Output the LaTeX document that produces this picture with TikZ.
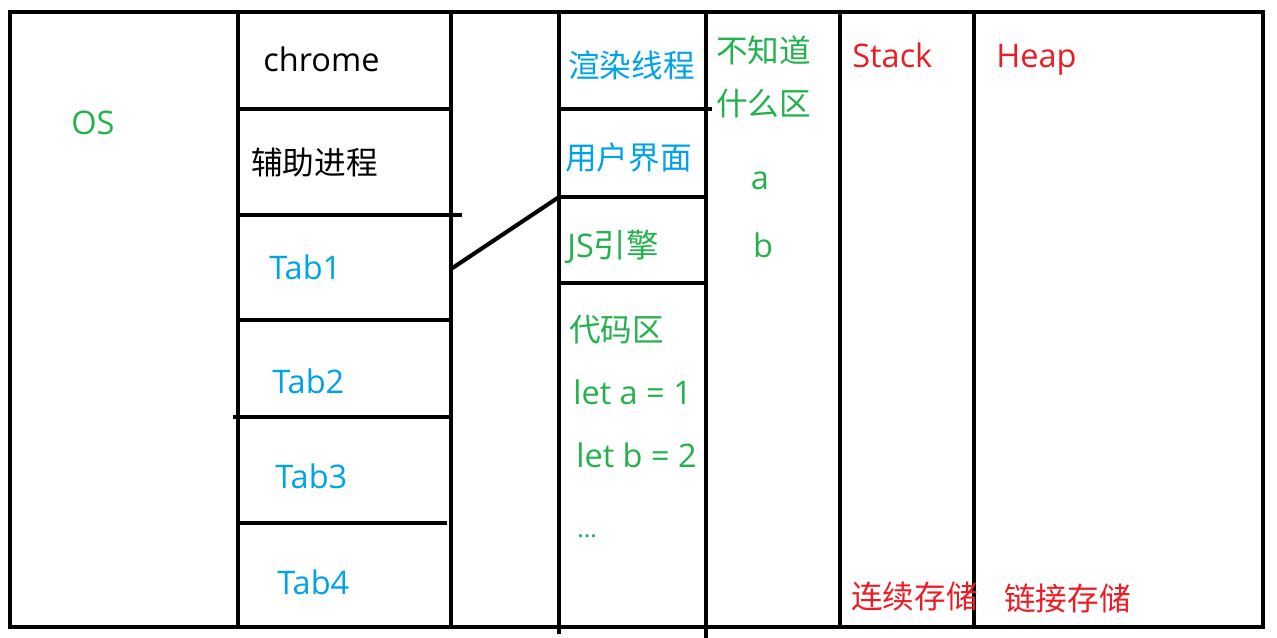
\documentclass[tikz,border=0pt]{standalone}
\usepackage{fontspec}
\setmainfont{Open Sans}
\newfontfamily\cjk{Noto Sans CJK SC}
\usepackage{tikz}

\definecolor{osgreen}{RGB}{34,177,76}
\definecolor{tabblue}{RGB}{0,162,232}
\definecolor{memred}{RGB}{237,28,36}

\begin{document}
\begin{tikzpicture}[x=0.02cm, y=-0.02cm,
        wall/.style={line width=2.3pt, line cap=rect},
        lbl/.style={inner sep=0pt, anchor=base west, font=\fontsize{18.5}{20}\selectfont},
        zh/.style={lbl, font=\fontsize{18}{20}\selectfont\cjk}]
                \useasboundingbox (0,0) rectangle (1277,638);

                % frame and columns
                \draw[wall] (10,12) rectangle (1263,627);
                \draw[wall] (238,12) -- (238,627);
                \draw[wall] (451,12) -- (451,627);
                \draw[wall] (559,12) -- (559,632);
                \draw[wall] (706,12) -- (706,636);
                \draw[wall] (840,12) -- (840,627);
                \draw[wall] (974,12) -- (974,627);

                % process rows
                \draw[wall] (238,109) -- (451,109);
                \draw[wall] (238,215) -- (460,215);
                \draw[wall] (238,320) -- (451,320);
                \draw[wall] (235,417) -- (451,417);
                \draw[wall] (238,523) -- (445,523);

                % thread rows
                \draw[wall] (559,109) -- (710,109);
                \draw[wall] (559,197) -- (706,197);
                \draw[wall] (559,283) -- (706,283);

                \coordinate (tabend) at (451,269);
                \coordinate (jsend) at (559,197);
                \draw[wall, line cap=round] (tabend) -- (jsend);

                \node[lbl, osgreen] (os) at (71,135) {OS};
                \node[lbl] (chrome) at (263,72) {chrome};
                \node[zh] (helper) at (251,175) {辅助进程};
                \node[lbl, tabblue] (tab1) at (269,280) {Tab1};
                \node[lbl, tabblue] (tab2) at (272,393) {Tab2};
                \node[lbl, tabblue] (tab3) at (275,488) {Tab3};
                \node[lbl, tabblue] (tab4) at (277,594) {Tab4};

                \node[zh, tabblue] (render) at (568,78) {渲染线程};
                \node[zh, tabblue] (ui) at (565,170) {用户界面};
                \node[lbl, osgreen] (js) at (567,258) {JS{\cjk 引擎}};
                \node[zh, osgreen] (code) at (569,341) {代码区};
                \node[lbl, osgreen] (leta) at (573,404) {let a {}= 1};
                \node[lbl, osgreen] (letb) at (576,467) {let b {}= 2};
                \node[lbl, osgreen] (more) at (577,537) {\fontsize{14}{16}\selectfont ...};

                \node[zh, osgreen] (unk1) at (716,63) {不知道};
                \node[zh, osgreen] (unk2) at (716,116) {什么区};
                \node[lbl, osgreen, anchor=base] (vara) at (760,190) {a};
                \node[lbl, osgreen, anchor=base] (varb) at (763,258) {b};

                \node[lbl, memred] (stack) at (852,68) {Stack};
                \node[lbl, memred] (heap) at (996,68) {Heap};
                \node[zh, memred] (seq) at (851,608) {连续存储};
                \node[zh, memred] (link) at (1004,610) {链接存储};
            \end{tikzpicture}
\end{document}
